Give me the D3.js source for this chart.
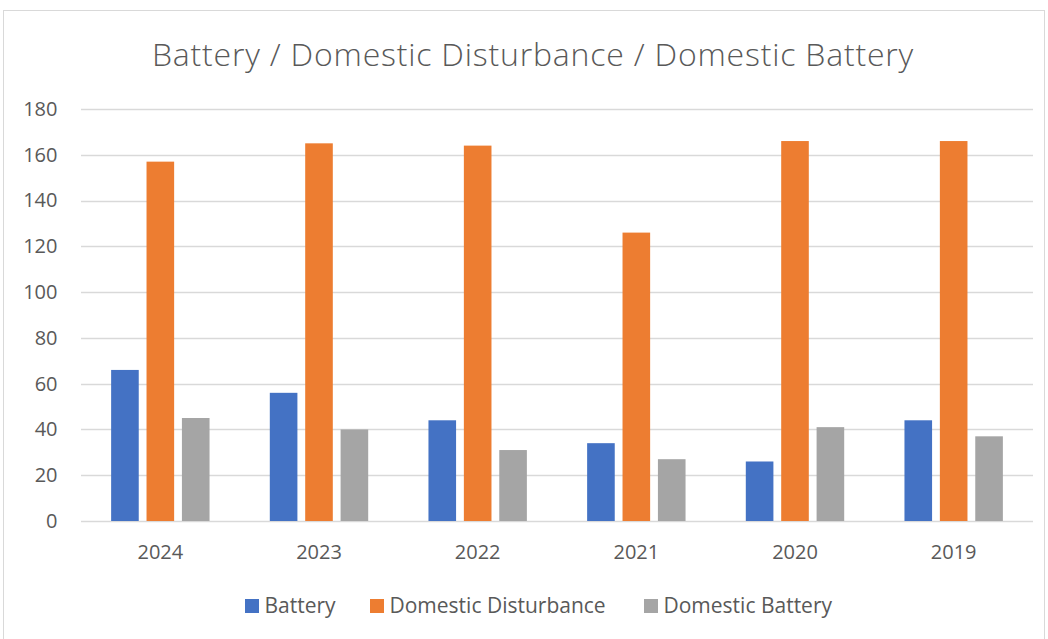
<!DOCTYPE html>
<html>
<head>
<meta charset="utf-8">
<script src="https://cdn.jsdelivr.net/npm/d3@7"></script>
<style>
  body { margin: 0; background: #fff; }
  text { font-family: "Open Sans", "Noto Sans", sans-serif; fill: #595959; }
</style>
</head>
<body>
<div id="box"></div>
<script>
// chart data
var years = ["2024", "2023", "2022", "2021", "2020", "2019"];
var seriesNames = ["Battery", "Domestic Disturbance", "Domestic Battery"];
var battery = [66, 56, 44, 34, 26, 44];
var domesticDisturbance = [157, 165, 164, 126, 166, 166];
var domesticBattery = [45, 40, 31, 27, 41, 37];
var yTicks = [0, 20, 40, 60, 80, 100, 120, 140, 160, 180];
var colors = ["#4472c4", "#ed7d31", "#a5a5a5"];

var seriesValues = [battery, domesticDisturbance, domesticBattery];

var width = 1048, height = 639;

var svg = d3.select("#box")
    .append("svg")
    .attr("width", width)
    .attr("height", height);

// chart border
svg.append("rect")
    .attr("x", 3.5)
    .attr("y", 10.5)
    .attr("width", 1041)
    .attr("height", 640)
    .attr("fill", "white")
    .attr("stroke", "#d9d9d9")
    .attr("stroke-width", 1);

// title
svg.append("text")
    .attr("x", 533)
    .attr("y", 66)
    .attr("text-anchor", "middle")
    .attr("font-size", 32)
    .style("font-weight", 300)
    .style("letter-spacing", "0.8px")
    .text("Battery / Domestic Disturbance / Domestic Battery");

var plotLeft = 81, plotRight = 1033, plotTop = 109, plotBottom = 521;

var x = d3.scaleBand()
    .domain(years)
    .range([plotLeft, plotRight]);

// bar positions inside each year group
var inner = d3.scaleBand()
    .domain(seriesNames)
    .range([-49.2, 49.2])
    .paddingInner(0.22);

var y = d3.scaleLinear()
    .domain([0, 180])
    .range([plotBottom, plotTop]);

// gridlines
svg.append("g")
    .selectAll("line")
    .data(yTicks)
    .enter()
    .append("line")
    .attr("x1", plotLeft)
    .attr("x2", plotRight)
    .attr("y1", function(d) { return Math.round(y(d)) + 0.5; })
    .attr("y2", function(d) { return Math.round(y(d)) + 0.5; })
    .attr("stroke", "#d9d9d9")
    .attr("stroke-width", 1.5);

// y axis labels
var yAxis = svg.append("g")
    .attr("transform", "translate(" + plotLeft + ",0)")
    .call(d3.axisLeft(y).tickValues(yTicks).tickSize(0).tickPadding(23.5));
yAxis.select(".domain").remove();
yAxis.selectAll("text")
    .attr("font-size", 20)
    .attr("fill", "#595959")
    .style("font-family", "'Open Sans', 'Noto Sans', sans-serif");

// x axis labels
var xAxis = svg.append("g")
    .attr("transform", "translate(0," + plotBottom + ")")
    .call(d3.axisBottom(x).tickSize(0).tickPadding(24));
xAxis.select(".domain").remove();
xAxis.selectAll("text")
    .attr("font-size", 20)
    .attr("fill", "#595959")
    .style("font-family", "'Open Sans', 'Noto Sans', sans-serif");

// legend
var legendItems = [
    { name: seriesNames[0], x: 245 },
    { name: seriesNames[1], x: 370 },
    { name: seriesNames[2], x: 644 }
];
var legend = svg.append("g");
legendItems.forEach(function(item, i) {
    legend.append("rect")
        .attr("x", item.x)
        .attr("y", 599)
        .attr("width", 14)
        .attr("height", 14)
        .attr("fill", colors[i]);
    legend.append("text")
        .attr("x", item.x + 19.5)
        .attr("y", 612.5)
        .attr("font-size", 21)
        .text(item.name);
});

// bars
for (var s = 0; s < seriesNames.length; s++) {
    svg.append("g")
        .selectAll("rect")
        .data(seriesValues[s])
        .enter()
        .append("rect")
        .attr("x", function(d, i) { return x(years[i]) + x.bandwidth() / 2 + inner(seriesNames[s]); })
        .attr("y", function(d) { return y(d); })
        .attr("width", inner.bandwidth())
        .attr("height", function(d) { return plotBottom - y(d); })
        .attr("fill", colors[s]);
}
</script>
</body>
</html>
